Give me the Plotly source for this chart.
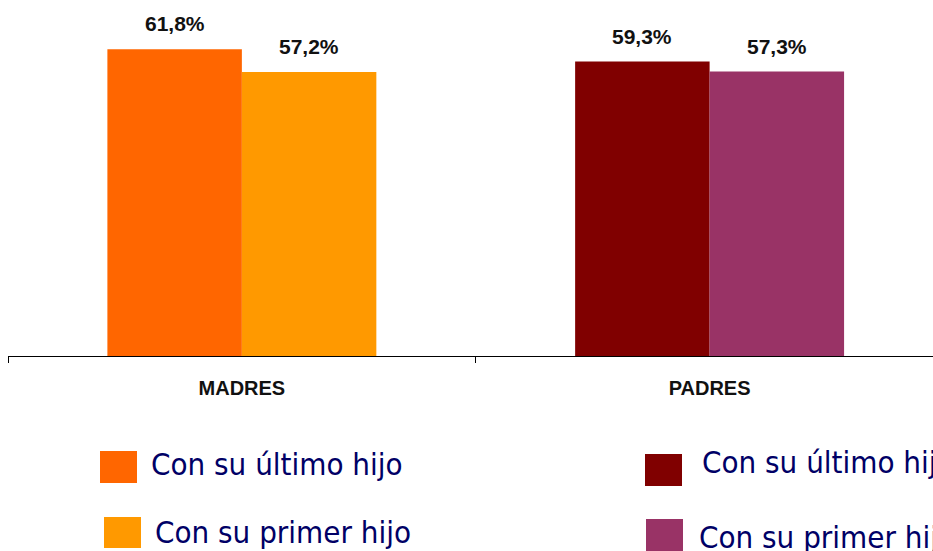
import plotly.graph_objects as go

# Data
categories = ["MADRES", "PADRES"]
ultimo_hijo = [61.8, 59.3]
primer_hijo = [57.2, 57.3]
series_names = ["Con su último hijo", "Con su primer hijo"]

# Styling
ultimo_colors = ["#FF6600", "#800000"]
primer_colors = ["#FF9900", "#993366"]
legend_text_color = "#000066"

W, H = 933, 551
M_L, M_R, M_T, M_B = 8, 0, 0, 195
BARGAP = 0.425
X_RANGE = [-0.5, 1.4776]
Y_RANGE = [0, 71.7]

plot_w = W - M_L - M_R
plot_h = H - M_T - M_B


def px_x(px):
    return (px - M_L) / plot_w


def px_y(py):
    return (H - M_B - py) / plot_h


def fmt(v):
    return f"{v:.1f}".replace(".", ",") + "%"


fig = go.Figure()
fig.add_trace(go.Bar(x=categories, y=ultimo_hijo, name=series_names[0],
                     marker=dict(color=ultimo_colors, line=dict(width=0)),
                     showlegend=False, hoverinfo="skip"))
fig.add_trace(go.Bar(x=categories, y=primer_hijo, name=series_names[1],
                     marker=dict(color=primer_colors, line=dict(width=0)),
                     showlegend=False, hoverinfo="skip"))

# Value labels above each bar
half = (1 - BARGAP) / 4
annotations = []
for i, cat in enumerate(categories):
    for off, vals in ((-half, ultimo_hijo), (half, primer_hijo)):
        annotations.append(dict(
            x=i + off, y=vals[i], xref="x", yref="y", text=fmt(vals[i]),
            showarrow=False, yanchor="bottom", yshift=12,
            font=dict(family="Liberation Sans, Arial", size=21, color="#111111",
                      weight="bold")))

# Legend: colour squares with labels in two columns
legend_items = [
    (ultimo_colors[0], series_names[0], (100, 137, 451, 483), 149, 464),
    (primer_colors[0], series_names[1], (104, 141, 517, 548), 153, 532),
    (ultimo_colors[1], series_names[0], (645, 682, 454, 486), 700, 462),
    (primer_colors[1], series_names[1], (646, 683, 519, 553), 697, 537),
]
shapes = []
for color, label, (x0, x1, y0, y1), tx, ty in legend_items:
    shapes.append(dict(type="rect", xref="paper", yref="paper",
                       x0=px_x(x0), x1=px_x(x1), y0=px_y(y1), y1=px_y(y0),
                       fillcolor=color, line=dict(width=0), layer="above"))
    annotations.append(dict(
        x=px_x(tx), y=px_y(ty), xref="paper", yref="paper", text=label,
        showarrow=False, xanchor="left", yanchor="middle",
        font=dict(family="DejaVu Sans Condensed, Noto Sans, DejaVu Sans",
                  size=31, color=legend_text_color)))

fig.update_layout(
    width=W, height=H,
    margin=dict(l=M_L, r=M_R, t=M_T, b=M_B, pad=0),
    paper_bgcolor="white", plot_bgcolor="white",
    barmode="group", bargap=BARGAP, bargroupgap=0,
    showlegend=False,
    annotations=annotations, shapes=shapes,
    xaxis=dict(type="category", range=X_RANGE, tickson="boundaries",
               ticks="outside", ticklen=6, tickwidth=1.3, tickcolor="black",
               showline=True, linecolor="black", linewidth=1.3,
               showgrid=False, zeroline=False,
               tickfont=dict(family="Liberation Sans, Arial", size=20,
                             color="#111111", weight="bold"),
               ticklabelstandoff=14),
    yaxis=dict(range=Y_RANGE, visible=False, showgrid=False, zeroline=False),
)

fig.write_html("out.html")
